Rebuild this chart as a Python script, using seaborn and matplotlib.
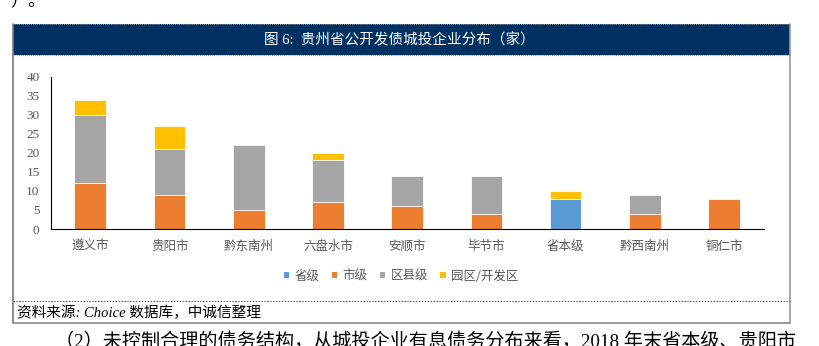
import matplotlib
matplotlib.use("Agg")
import matplotlib.pyplot as plt
from matplotlib.patches import Rectangle, Patch
from matplotlib.lines import Line2D
import numpy as np
import pandas as pd
import seaborn as sns

# ---- data ----
categories = ["遵义市", "贵阳市", "黔东南州", "六盘水市", "安顺市", "毕节市", "省本级", "黔西南州", "铜仁市"]
series_names = ["省级", "市级", "区县级", "园区/开发区"]
provincial = [0, 0, 0, 0, 0, 0, 8, 0, 0]
municipal = [12, 9, 5, 7, 6, 4, 0, 4, 8]
county = [18, 12, 17, 11, 8, 10, 0, 5, 0]
park = [4, 6, 0, 2, 0, 0, 2, 0, 0]
y_ticks = [0, 5, 10, 15, 20, 25, 30, 35, 40]

title_text = "图 6:  贵州省公开发债城投企业分布（家）"
source_text = "资料来源: Choice 数据库，中诚信整理"
body_top = "）。"
body_bottom = "（2）未控制合理的债务结构，从城投企业有息债务分布来看，2018 年末省本级、贵阳市"

colors = ["#5B9BD5", "#ED7D31", "#A5A5A5", "#FFC000"]

sns.set_style("white")
plt.rcParams["font.family"] = ["Liberation Serif", "Noto Sans CJK SC"]

W, H = 819, 346
fig = plt.figure(figsize=(W / 100, H / 100), dpi=100)
fig.patch.set_facecolor("white")


def fx(x):
    return x / W


def fy(y):
    return 1 - y / H


# ---- frame / header ----
fig.patches.append(Rectangle((fx(13), fy(55)), fx(790) - fx(13), fy(24) - fy(55),
                             transform=fig.transFigure, facecolor="#003162",
                             edgecolor="none", zorder=0))
for yy in (24, 55):
    fig.lines.append(Line2D([fx(13), fx(790)], [fy(yy), fy(yy)], transform=fig.transFigure,
                            color="#9a9a9a", lw=0.7, ls=(0, (1, 1))))
fig.lines.append(Line2D([fx(13), fx(13)], [fy(24), fy(323)], transform=fig.transFigure,
                        color="#7a7a7a", lw=1.2))
fig.lines.append(Line2D([fx(790), fx(790)], [fy(24), fy(323)], transform=fig.transFigure,
                        color="#9a9a9a", lw=1.2))
fig.lines.append(Line2D([fx(13), fx(790)], [fy(323), fy(323)], transform=fig.transFigure,
                        color="#8a8a8a", lw=1.2))
fig.lines.append(Line2D([fx(13), fx(790)], [fy(301), fy(301)], transform=fig.transFigure,
                        color="#555555", lw=0.7, ls=(0, (1.5, 1.5))))

fig.text(fx(399), fy(40), title_text, color="white", fontsize=10.5,
         ha="center", va="center")
fig.text(fx(17), fy(313), source_text, color="black", fontsize=10.5, style="italic",
         ha="left", va="center")
fig.text(fx(10), fy(6), body_top, color="black", fontsize=13, ha="left", va="baseline")
fig.text(fx(55), fy(347), body_bottom, color="black", fontsize=13.8, ha="left", va="baseline")

# ---- plot ----
ax = fig.add_axes([fx(50.7), fy(229), fx(763.7) - fx(50.7), fy(76.7) - fy(229)])

stack = np.array([provincial, municipal, county, park], dtype=float)
cum = np.cumsum(stack, axis=0)
for i in range(len(series_names) - 1, -1, -1):
    df = pd.DataFrame({"cat": categories, "val": cum[i]})
    sns.barplot(data=df, x="cat", y="val", order=categories, color=colors[i],
                saturation=1, width=0.4, errorbar=None, ax=ax,
                edgecolor="white", linewidth=0.6)

ax.set_xlim(-0.5, len(categories) - 0.5)
ax.set_ylim(0, 40)
ax.set_yticks(y_ticks)
ax.set_yticklabels([str(v) for v in y_ticks])
ax.set_xlabel("")
ax.set_ylabel("")
ax.set_xticks(range(len(categories)))
ax.set_xticklabels(categories, family="Noto Sans CJK SC")
ax.set_xticks(np.arange(-0.5, len(categories), 1.0), minor=True)
ax.tick_params(axis="x", which="major", length=0, pad=8, labelsize=9, labelcolor="#595959")
ax.tick_params(axis="x", which="minor", direction="in", length=3.5, width=0.8, color="black")
ax.tick_params(axis="y", which="major", direction="out", length=3, width=0.8, color="black",
               pad=5, labelsize=9.5, labelcolor="#595959")
for s in ("top", "right"):
    ax.spines[s].set_visible(False)
for s in ("left", "bottom"):
    ax.spines[s].set_color("black")
    ax.spines[s].set_linewidth(0.8)
ax.set_facecolor("white")

handles = [Patch(facecolor=c, edgecolor="none") for c in colors]
fig.legend(handles, series_names, loc="center", bbox_to_anchor=(fx(401), fy(276)),
           ncol=4, frameon=False, handlelength=0.45, handleheight=0.45,
           handletextpad=0.4, columnspacing=1.0, labelcolor="#595959",
           prop={"family": "Noto Sans CJK SC", "size": 9})

fig.savefig("out.png", dpi=100, facecolor="white")
